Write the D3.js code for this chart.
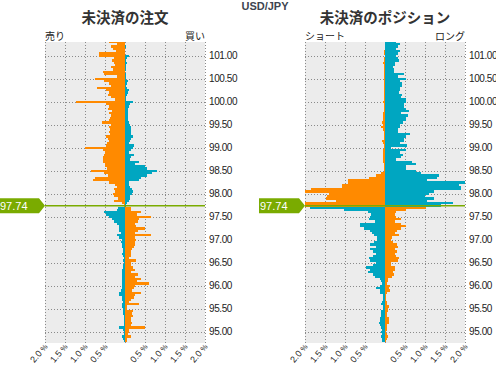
<!DOCTYPE html>
<html>
<head>
<meta charset="utf-8">
<script src="https://cdn.jsdelivr.net/npm/d3@7"></script>
<style>
  body { margin: 0; background: #fff; }
  svg { display: block; font-family: "Liberation Sans", Arial, sans-serif; }
  .jp { font-family: "Noto Sans CJK JP", sans-serif; }
</style>
</head>
<body>
<svg id="chart" width="496" height="365"></svg>
<script>
const pair = 'USD/JPY';
const current_price = 97.74;

// price buckets (0.05 yen), top to bottom
const price_levels = [
  101.30,101.25,101.20,101.15,101.10,101.05,101.00,100.95,100.90,100.85,
  100.80,100.75,100.70,100.65,100.60,100.55,100.50,100.45,100.40,100.35,
  100.30,100.25,100.20,100.15,100.10,100.05,100.00,99.95,99.90,99.85,
  99.80,99.75,99.70,99.65,99.60,99.55,99.50,99.45,99.40,99.35,
  99.30,99.25,99.20,99.15,99.10,99.05,99.00,98.95,98.90,98.85,
  98.80,98.75,98.70,98.65,98.60,98.55,98.50,98.45,98.40,98.35,
  98.30,98.25,98.20,98.15,98.10,98.05,98.00,97.95,97.90,97.85,
  97.80,97.75,97.70,97.65,97.60,97.55,97.50,97.45,97.40,97.35,
  97.30,97.25,97.20,97.15,97.10,97.05,97.00,96.95,96.90,96.85,
  96.80,96.75,96.70,96.65,96.60,96.55,96.50,96.45,96.40,96.35,
  96.30,96.25,96.20,96.15,96.10,96.05,96.00,95.95,95.90,95.85,
  95.80,95.75,95.70,95.65,95.60,95.55,95.50,95.45,95.40,95.35,
  95.30,95.25,95.20,95.15,95.10,95.05,95.00,94.95,94.90,94.85,
  94.80
];

// open orders, % (left = sell side, right = buy side)
const order_left = [
  .41,.21,.34,.30,.23,.66,.66,.28,.32,.27,
  .26,.34,.31,.56,.52,.20,.76,.52,.39,.34,
  .70,.48,.40,.43,.36,.24,1.23,.48,.39,.42,
  .33,.40,.36,.38,.39,.57,.35,.40,.37,.39,
  .38,.48,.43,.39,.45,.48,1.01,.56,.50,.53,
  .56,.55,.55,.50,.50,.45,.84,.52,.43,.74,
  .79,.39,.25,.21,.27,.25,.30,.27,.18,.28,
  .08,.02,.18,.20,.53,.48,.41,.33,.27,.19,
  .15,.15,.15,.10,.20,.15,.08,.10,.08,.07,
  .05,.06,.07,.05,.02,.05,.02,.04,.06,.07,
  .08,.08,.07,.07,.07,.08,.07,.07,.11,.16,
  .16,.08,.07,.04,.07,.08,.06,.05,.04,.03,
  .03,.03,.02,.02,.16,.05,.02,.02,.07,.04,
  .03
];
const order_right = [
  0,0,.03,0,0,0,.10,.05,.02,.05,
  .02,.03,.02,.01,.03,.03,.03,.07,.05,.02,
  .05,.10,.08,.05,.03,.03,.20,.12,.09,.07,
  .07,.08,.08,.07,.07,.10,.12,.15,.15,.15,
  .15,.19,.15,.13,.10,.22,.20,.15,.10,.23,
  .15,.13,.35,.26,.49,.55,.81,.67,.55,.40,
  .36,.10,.10,.12,.18,.21,.18,.12,.12,.09,
  .04,.02,.15,.16,.39,.30,.66,.34,.32,.25,
  .28,.51,.33,.26,.66,.26,.28,.26,.26,.22,
  .18,.16,.14,.14,.11,.28,.16,.14,.20,.25,
  .16,.32,.25,.41,.30,.59,.26,.22,.18,.39,
  .26,.22,.16,.10,.34,.06,.05,.20,.18,.20,
  .15,.16,.18,.16,.49,.10,.09,.08,.16,.06,
  .05
];

// open positions, % (left = short, right = long)
const pos_left = [
  0,0,0,0,.03,.02,0,.03,.03,.06,
  .03,.02,.02,.02,.02,.02,.03,.02,.03,.02,
  .03,.02,.03,.02,.03,.02,.05,.02,.02,.02,
  .03,.05,.04,.05,.05,.08,.05,.11,.04,.03,
  .02,.03,.02,.07,.06,.02,.02,.06,.06,.06,
  .05,.04,.04,.02,.03,.03,.03,.10,.23,.39,
  .92,.92,1.07,1.07,1.85,2.0,1.41,1.45,1.48,1.22,
  2.0,2.0,1.88,1.03,.43,.34,.37,.41,.26,.62,
  .62,.52,.37,.33,.28,.20,.20,.27,.38,.22,
  .38,.30,.23,.30,.39,.38,.23,.30,.48,.38,
  .42,.30,.24,.13,.10,.08,.13,.22,.12,.13,
  .05,.04,.04,.07,.09,.06,.06,.10,.11,.11,
  .13,.13,.14,.13,.09,.08,.09,.08,.11,.08,
  .07
];
const pos_right = [
  .28,.38,.33,.28,.37,.32,.28,.32,.35,.24,
  .24,.20,.22,.22,.47,.32,.53,.37,.43,.43,
  .37,.37,.35,.43,.41,.52,.52,.47,.47,.53,
  .59,.39,.57,.53,.52,.45,.37,.38,.33,.33,
  .62,.53,.47,.48,.37,.56,.16,.52,.37,.45,
  .41,.28,.67,.78,.53,.53,.78,.90,1.34,1.30,
  1.05,2.0,1.85,1.9,1.9,1.23,1.1,1.0,1.23,1.05,
  1.7,1.4,1.03,.52,.28,.26,.28,.41,.25,.40,
  .52,.40,.30,.25,.35,.18,.14,.20,.30,.33,
  .24,.30,.26,.27,.36,.33,.15,.14,.26,.24,
  .20,.22,.18,.08,.08,.05,.12,.10,.12,.05,
  .03,.03,.03,.04,.05,.09,.08,.07,.04,.04,
  .10,.09,.09,.04,.04,.05,.03,.04,.08,.04,
  .03
];

const y_ticks = [95.0,95.5,96.0,96.5,97.0,97.5,98.0,98.5,99.0,99.5,100.0,100.5,101.0];
const x_ticks = [-2,-1.5,-1,-0.5,0,0.5,1,1.5,2];
const x_tick_labels = ['2.0','1.5','1.0','0.5','','0.5','1.0','1.5','2.0'];

const orange = '#ff8a00';
const teal = '#00a6c1';
const green = '#7aab00';

const svg = d3.select('#chart');
const plot_top = 42, plot_bottom = 343, plot_w = 160;
const y = d3.scaleLinear().domain([94.76, 101.30]).range([plot_bottom, plot_top]);
const half_step = 0.025;

svg.append('text')
  .attr('x', 265).attr('y', 10)
  .attr('text-anchor', 'middle')
  .style('font-size', '11px').style('font-weight', 'bold')
  .attr('fill', '#3d4450')
  .text(pair);

function draw_panel(id, x0, title, label_l, label_r, vals_l, vals_r) {
  const x = d3.scaleLinear().domain([-2, 2]).range([x0, x0 + plot_w]);
  const g = svg.append('g');

  g.append('clipPath').attr('id', 'clip-' + id)
    .append('rect')
    .attr('x', x0).attr('y', plot_top)
    .attr('width', plot_w).attr('height', plot_bottom - plot_top);

  g.append('rect')
    .attr('x', x0).attr('y', plot_top)
    .attr('width', plot_w).attr('height', plot_bottom - plot_top)
    .attr('fill', '#ececec');

  // dotted grid
  g.selectAll('.vgrid').data(x_ticks).enter().append('line')
    .attr('x1', d => Math.round(x(d)) + 0.5).attr('x2', d => Math.round(x(d)) + 0.5)
    .attr('y1', plot_top).attr('y2', plot_bottom)
    .attr('stroke', '#8a8a8a').attr('stroke-dasharray', '1,2');
  g.selectAll('.hgrid').data(y_ticks).enter().append('line')
    .attr('x1', x0).attr('x2', x0 + plot_w)
    .attr('y1', d => Math.round(y(d)) + 0.5).attr('y2', d => Math.round(y(d)) + 0.5)
    .attr('stroke', '#8a8a8a').attr('stroke-dasharray', '1,2');

  const rows = price_levels.map((p, i) => ({price: p, l: vals_l[i], r: vals_r[i]}));
  const bars = g.append('g')
    .attr('clip-path', 'url(#clip-' + id + ')')
    .attr('shape-rendering', 'crispEdges');

  bars.selectAll('.bl').data(rows).enter().append('rect')
    .attr('x', d => x(-d.l))
    .attr('y', d => y(d.price + half_step))
    .attr('width', d => x(0) - x(-d.l))
    .attr('height', d => y(d.price - half_step) - y(d.price + half_step))
    .attr('fill', d => d.price >= current_price ? orange : teal);

  bars.selectAll('.br').data(rows).enter().append('rect')
    .attr('x', x(0))
    .attr('y', d => y(d.price + half_step))
    .attr('width', d => x(d.r) - x(0))
    .attr('height', d => y(d.price - half_step) - y(d.price + half_step))
    .attr('fill', d => d.price >= current_price ? teal : orange);

  // y axis labels on the right
  g.selectAll('.ylab').data(y_ticks).enter().append('text')
    .attr('x', x0 + plot_w + 4)
    .attr('y', d => y(d))
    .attr('dy', '0.35em')
    .style('font-size', '10px').style('letter-spacing', '-0.4px')
    .attr('fill', '#222')
    .text(d => d3.format('.2f')(d));

  // x axis labels, rotated
  const xl = g.selectAll('.xlab').data(x_ticks.map((t, i) => ({t: t, s: x_tick_labels[i]})).filter(d => d.s))
    .enter().append('text')
    .attr('transform', d => 'translate(' + (x(d.t) + 3) + ',' + 347 + ') rotate(-50)')
    .attr('text-anchor', 'end')
    .style('font-size', '9px')
    .attr('fill', '#222');
  xl.append('tspan').text(d => d.s);
  xl.append('tspan').style('font-size', '7.5px').text(' %');

  // headers
  g.append('text').attr('class', 'jp')
    .attr('x', x0 + plot_w / 2).attr('y', 23)
    .attr('text-anchor', 'middle')
    .style('font-size', '14.5px').style('font-weight', 'bold')
    .attr('fill', '#333')
    .text(title);
  g.append('text').attr('class', 'jp')
    .attr('x', x0).attr('y', 40)
    .style('font-size', '10px').attr('fill', '#222')
    .text(label_l);
  g.append('text').attr('class', 'jp')
    .attr('x', x0 + plot_w).attr('y', 40)
    .attr('text-anchor', 'end')
    .style('font-size', '10px').attr('fill', '#222')
    .text(label_r);

  // current price line and tag
  const yc = y(current_price);
  g.append('line')
    .attr('x1', x0).attr('x2', x0 + plot_w)
    .attr('y1', yc).attr('y2', yc)
    .attr('stroke', green).attr('stroke-width', 1.5);
  g.append('path')
    .attr('d', 'M' + (x0 - 46) + ',' + (yc - 7.5) + 'H' + (x0 - 6) + 'L' + x0 + ',' + yc +
      'L' + (x0 - 6) + ',' + (yc + 7.5) + 'H' + (x0 - 46) + 'Z')
    .attr('fill', green);
  g.append('text')
    .attr('x', x0 - 45).attr('y', yc + 4)
    .style('font-size', '11px').attr('fill', '#fff')
    .text(current_price.toFixed(2));
}

draw_panel('orders', 45, '未決済の注文', '売り', '買い', order_left, order_right);
draw_panel('positions', 305, '未決済のポジション', 'ショート', 'ロング', pos_left, pos_right);
</script>
</body>
</html>
